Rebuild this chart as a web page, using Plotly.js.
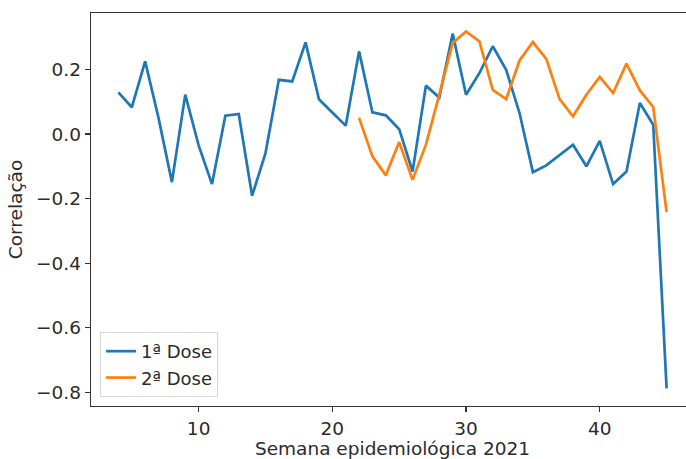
<!DOCTYPE html>
<html>
<head>
<meta charset="utf-8">
<script src="https://cdn.plot.ly/plotly-3.0.1.min.js"></script>
<style>
  html, body { margin: 0; padding: 0; overflow: hidden; background: #fff; }
  #chart { width: 700px; height: 459px; }
</style>
</head>
<body>
<div id="chart"></div>
<script>
// Semanas epidemiológicas de 2021
const semanas1 = [4, 5, 6, 7, 8, 9, 10, 11, 12, 13, 14, 15, 16, 17, 18, 19, 20, 21, 22, 23, 24,
                  25, 26, 27, 28, 29, 30, 31, 32, 33, 34, 35, 36, 37, 38, 39, 40, 41, 42, 43, 44, 45];
const corr1 = [0.129, 0.083, 0.225, 0.05, -0.149, 0.122, -0.035, -0.155, 0.057, 0.062, -0.191,
               -0.059, 0.168, 0.163, 0.284, 0.108, 0.067, 0.026, 0.256, 0.067, 0.058, 0.015,
               -0.116, 0.150, 0.113, 0.311, 0.122, 0.189, 0.272, 0.199, 0.065, -0.118, -0.097,
               -0.064, -0.033, -0.100, -0.021, -0.155, -0.116, 0.096, 0.029, -0.788];

const semanas2 = [22, 23, 24, 25, 26, 27, 28, 29, 30, 31, 32, 33, 34, 35, 36, 37, 38, 39, 40,
                  41, 42, 43, 44, 45];
const corr2 = [0.050, -0.069, -0.128, -0.025, -0.142, -0.033, 0.122, 0.282, 0.318, 0.287, 0.137,
               0.108, 0.228, 0.285, 0.233, 0.108, 0.055, 0.122, 0.177, 0.127, 0.218, 0.135,
               0.084, -0.242];

const nomes = ['1ª Dose', '2ª Dose'];
const cores = ['#1f77b4', '#ff7f0e'];

const font = { family: 'DejaVu Sans, sans-serif', size: 18.5, color: '#2b2b2b' };
const fontLegenda = { family: 'DejaVu Sans, sans-serif', size: 18, color: '#2b2b2b' };

const traces = [
  { x: semanas1, y: corr1, name: nomes[0], type: 'scatter', mode: 'lines',
    line: { color: cores[0], width: 2.7 } },
  { x: semanas2, y: corr2, name: nomes[1], type: 'scatter', mode: 'lines',
    line: { color: cores[1], width: 2.7 } }
];

const eixo = {
  showline: true, mirror: true, linecolor: '#333', linewidth: 1.3,
  ticks: 'outside', ticklen: 5, tickwidth: 1.2, tickcolor: '#333',
  showgrid: false, zeroline: false, tickfont: font
};

const layout = {
  width: 700, height: 459,
  margin: { l: 91, r: 6, t: 13, b: 53 },
  paper_bgcolor: '#fff', plot_bgcolor: '#fff',
  font: font,
  showlegend: true,
  legend: {
    x: 0.015, y: 0.023, xanchor: 'left', yanchor: 'bottom',
    bgcolor: 'rgba(255,255,255,0.8)', bordercolor: '#d6d6d6', borderwidth: 1,
    font: fontLegenda, tracegroupgap: 0, itemwidth: 30
  },
  xaxis: Object.assign({}, eixo, {
    range: [1.95, 47.05], tick0: 0, dtick: 10,
    title: { text: 'Semana epidemiológica 2021', font: font, standoff: 6 }
  }),
  yaxis: Object.assign({}, eixo, {
    range: [-0.8425, 0.375], tick0: 0, dtick: 0.2, tickformat: '.1f',
    title: { text: 'Correlação', font: font, standoff: 8 }
  })
};

Plotly.newPlot('chart', traces, layout, { displayModeBar: false, staticPlot: true });
</script>
</body>
</html>
